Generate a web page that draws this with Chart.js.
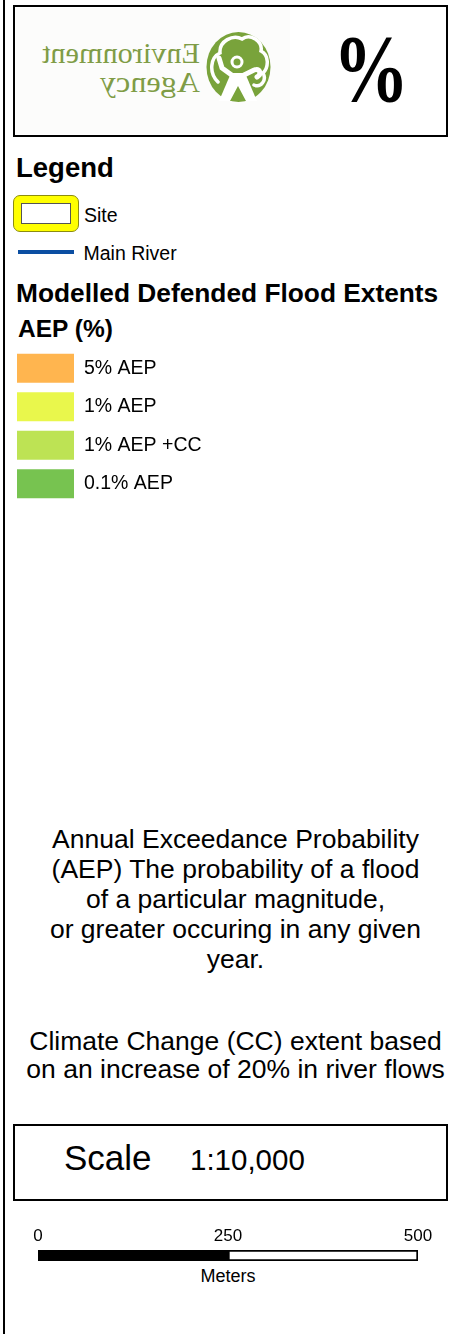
<!DOCTYPE html>
<html>
<head>
<meta charset="utf-8">
<script src="https://cdn.jsdelivr.net/npm/chart.js@4.4.1/dist/chart.umd.min.js"></script>
<style>
  html, body { margin: 0; padding: 0; background: #fff; }
  body {
    width: 449px; height: 1334px; position: relative; overflow: hidden;
    font-family: "Liberation Sans", Arial, sans-serif; color: #000;
  }
  .abs { position: absolute; white-space: nowrap; line-height: 1; }
  .bold { font-weight: bold; }
  .frame { position: absolute; box-sizing: border-box; border: 2px solid #000; }
  canvas { position: absolute; }
  .para { position: absolute; left: 13px; width: 445px; text-align: center; white-space: nowrap; font-size: 26.5px; }
</style>
</head>
<body>

<!-- outer left rule -->
<div style="position:absolute;left:3px;top:0;width:2px;height:1334px;background:#000"></div>

<!-- header box with logo + percent sign -->
<div class="frame" style="left:13px;top:5px;width:435px;height:132px"></div>
<svg style="position:absolute;left:0;top:0" width="449" height="140">
  <rect x="16" y="8" width="274" height="126" fill="#fcfcfb"/>
  <g fill="#7f9c46" font-family="'Liberation Serif', 'DejaVu Serif', serif" font-size="29">
    <text x="-200" y="63" transform="scale(-1,1)" textLength="158" lengthAdjust="spacingAndGlyphs">Environment</text>
    <text x="-200" y="92" transform="scale(-1,1)" textLength="100" lengthAdjust="spacingAndGlyphs">Agency</text>
  </g>
  <ellipse cx="238.5" cy="67" rx="32" ry="35" fill="#79a33b"/>
  <path d="M218,82 C208,72 211,57 220,53 C219,41 233,34 242,39 C250,33 263,41 261,51 C269,55 269,67 263,73 C267,80 261,88 254,85"
        fill="none" stroke="#fff" stroke-width="3.5" stroke-linecap="round"/>
  <circle cx="237" cy="62" r="5" fill="none" stroke="#fff" stroke-width="3"/>
  <path d="M233,76 L222,68 L219,58" fill="none" stroke="#fff" stroke-width="5" stroke-linecap="round"/>
  <path d="M242,76 L254,70 C260,68 262,74 257,77" fill="none" stroke="#fff" stroke-width="5" stroke-linecap="round"/>
  <polygon points="231,73 245,73 257,101 219,101" fill="#fff"/>
  <polygon points="238,86 246,101 230,101" fill="#79a33b"/>
  <text x="333" y="101" font-family="'Liberation Serif', 'DejaVu Serif', serif" font-weight="bold"
        font-size="96" textLength="76" lengthAdjust="spacingAndGlyphs">%</text>
</svg>

<!-- legend heading and point symbols -->
<div class="abs bold" style="left:16px;top:154px;font-size:27.5px">Legend</div>
<div style="position:absolute;left:13px;top:195px;width:66px;height:37px;box-sizing:border-box;background:#ffff00;border:1px solid #8c8c10;border-radius:7px"></div>
<div style="position:absolute;left:21px;top:203px;width:50px;height:21px;box-sizing:border-box;background:#fff;border:1px solid #555"></div>
<div class="abs" style="left:84px;top:205.5px;font-size:19.5px">Site</div>
<div style="position:absolute;left:18px;top:250px;width:56px;height:4px;background:#0b4ea2"></div>
<div class="abs" style="left:83.5px;top:243.5px;font-size:19.5px">Main River</div>
<div class="abs bold" style="left:16px;top:279.5px;font-size:26.3px">Modelled Defended Flood Extents</div>
<div class="abs bold" style="left:18px;top:317px;font-size:24.5px">AEP (%)</div>

<!-- flood extent swatches -->
<canvas id="aepChart" width="260" height="154" style="left:0;top:349px"></canvas>

<!-- notes -->
<div class="para" style="top:824px;line-height:30px">
  Annual Exceedance Probability<br>
  (AEP) The probability of a flood<br>
  of a particular magnitude,<br>
  or greater occuring in any given<br>
  year.
</div>
<div class="para" style="top:1026.5px;line-height:28.5px">
  Climate Change (CC) extent based<br>
  on an increase of 20% in river flows
</div>

<!-- scale box -->
<div class="frame" style="left:13px;top:1124px;width:435px;height:77px"></div>
<div class="abs" style="left:64px;top:1140px;font-size:35px">Scale</div>
<div class="abs" style="left:190px;top:1145px;font-size:29.5px">1:10,000</div>

<!-- scale bar -->
<canvas id="scaleBar" width="449" height="41" style="left:0;top:1220px"></canvas>
<div class="abs" style="left:128px;width:200px;text-align:center;top:1266.5px;font-size:18px">Meters</div>

<script>
// ── Legend data ────────────────────────────────────────────────────────────
const aepLabels = ["5% AEP", "1% AEP", "1% AEP +CC", "0.1% AEP"];
const aepColors = ["#ffb54f", "#e9f74c", "#bde354", "#77c350"];
const aepSwatch = [1, 1, 1, 1];

// ── Scale bar data (meters) ────────────────────────────────────────────────
const scaleTicks = [0, 250, 500];
const scaleSegments = [250, 250];
const scaleFills = ["#000000", "#ffffff"];

const FONT = "'Liberation Sans', Arial, sans-serif";

// swatches: horizontal bars, labels on a right-hand category axis
new Chart(document.getElementById("aepChart"), {
  type: "bar",
  data: {
    labels: aepLabels,
    datasets: [{
      data: aepSwatch,
      backgroundColor: aepColors,
      borderWidth: 0,
      barPercentage: 29 / 38.5,
      categoryPercentage: 1,
    }],
  },
  options: {
    indexAxis: "y",
    responsive: false,
    animation: false,
    events: [],
    layout: { padding: { left: 17, right: 0, top: 0, bottom: 0 } },
    plugins: { legend: { display: false }, tooltip: { enabled: false } },
    scales: {
      x: { display: false, min: 0, max: 1 },
      y: {
        position: "right",
        grid: { display: false, drawTicks: false },
        border: { display: false },
        ticks: { color: "#000", padding: 10, font: { family: FONT, size: 19.5 } },
        // keep the rows at full height: no label overhang padding
        afterFit: (s) => { s.width = 186; s.paddingTop = 0; s.paddingBottom = 0; },
      },
    },
  },
});

// scale bar: two stacked segments on a 0–500 m axis
new Chart(document.getElementById("scaleBar"), {
  type: "bar",
  data: {
    labels: ["Meters"],
    datasets: scaleSegments.map((v, i) => ({
      data: [v],
      backgroundColor: scaleFills[i],
      borderColor: "#000",
      borderWidth: 2,
      borderSkipped: false,
      barPercentage: 1,
      categoryPercentage: 1,
    })),
  },
  options: {
    indexAxis: "y",
    responsive: false,
    animation: false,
    events: [],
    layout: { padding: { left: 38, right: 31, top: 0, bottom: 0 } },
    plugins: { legend: { display: false }, tooltip: { enabled: false } },
    scales: {
      x: {
        position: "top",
        stacked: true,
        min: 0,
        max: 500,
        grid: { display: false, drawTicks: false },
        border: { display: false },
        afterBuildTicks: (s) => { s.ticks = scaleTicks.map(v => ({ value: v })); },
        ticks: { color: "#000", padding: 3, font: { family: FONT, size: 17 } },
        afterFit: (s) => { s.height = 30; },
      },
      y: { display: false, stacked: true },
    },
  },
});
</script>
</body>
</html>
